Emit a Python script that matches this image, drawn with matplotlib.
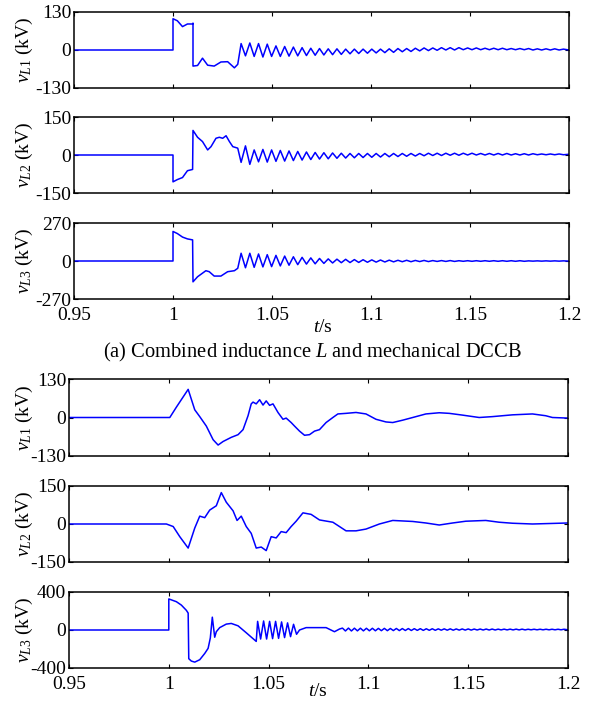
import matplotlib
matplotlib.use("Agg")
import matplotlib.pyplot as plt

plt.rcParams['font.family'] = ['Liberation Serif', 'DejaVu Serif']
plt.rcParams['mathtext.fontset'] = 'custom'
plt.rcParams['mathtext.rm'] = 'Liberation Serif'
plt.rcParams['mathtext.it'] = 'Liberation Serif:italic'

# ---------------- data ----------------
x_ticks = [0.95, 1.0, 1.05, 1.1, 1.15, 1.2]
x_tick_labels = ['0.95', '1', '1.05', '1.1', '1.15', '1.2']

ylabels = [r'$v_{L1}$ (kV)', r'$v_{L2}$ (kV)', r'$v_{L3}$ (kV)']
ylims_a = [130, 150, 270]
ylims_b = [130, 150, 400]
caption_a = r'(a) Combined inductance $L$ and mechanical DCCB'

# (a) shared time instants of the oscillation extrema
t_osc_a = [1.0344, 1.0366, 1.0388, 1.041, 1.0432, 1.0454, 1.0476, 1.0498, 1.052, 1.0542,
           1.0564, 1.0586, 1.0608, 1.063, 1.0652, 1.0674, 1.0696, 1.0718, 1.074, 1.0762,
           1.0784, 1.0806, 1.0828, 1.085, 1.0872, 1.0894, 1.0916, 1.0938, 1.096, 1.0982,
           1.1004, 1.1026, 1.1048, 1.107, 1.1092, 1.1114, 1.1136, 1.1158, 1.118, 1.1202,
           1.1224, 1.1246, 1.1268, 1.129, 1.1312, 1.1334, 1.1356, 1.1378, 1.14, 1.1422,
           1.1444, 1.1466, 1.1488, 1.151, 1.1532, 1.1554, 1.1576, 1.1598, 1.162, 1.1642,
           1.1664, 1.1686, 1.1708, 1.173, 1.1752, 1.1774, 1.1796, 1.1818, 1.184, 1.1862,
           1.1884, 1.1906, 1.1928, 1.195, 1.1972, 1.2]

# (a) v_L1
t_a1 = [0.95, 1.0, 1.0, 1.0022, 1.0048, 1.0073, 1.0099, 1.0101, 1.0101, 1.0124, 1.0149,
        1.0175, 1.0208, 1.0242, 1.0276, 1.031, 1.0327]
v_a1 = [0, 0, 107, 100, 80, 89, 89, 92, -55, -53, -28, -52, -55, -41, -40, -61, -49]
v_a1_osc = [22, -20, 24, -22, 22, -24, 20, -22, 14, -22, 12, -21,
            10, -20, 8, -19, 6, -18, 5, -17, 4, -16, 4, -15,
            3, -13, 3, -12, 3, -11, 3, -10, 3, -9, 4, -8,
            5, -6, 5, -5, 6, -3, 7, -2, 7, -1, 8, 0,
            8, 0, 8, 1, 7, 1, 7, 1, 6, 1, 6, 1,
            6, 1, 5, 1, 5, 1, 5, 0, 4, 0, 4, 0,
            4, 0, 3, 0]

# (a) v_L2
t_a2 = [0.95, 1.0, 1.0, 1.0022, 1.0048, 1.0073, 1.0099, 1.0101, 1.0124, 1.0149, 1.0175,
        1.0192, 1.0217, 1.0234, 1.0251, 1.0268, 1.0285, 1.0302, 1.0327]
v_a2 = [0, 0, -106, -97, -89, -62, -57, 97, 70, 53, 20, 33, 66, 70, 66, 76, 53, 33, 27]
v_a2_osc = [-29, 36, -37, 20, -27, 22, -28, 20, -25, 18, -24, 16,
            -22, 14, -20, 12, -18, 10, -16, 9, -15, 8, -13, 7,
            -12, 6, -11, 6, -10, 6, -9, 6, -8, 6, -7, 6,
            -6, 6, -5, 6, -4, 6, -3, 7, -2, 7, -2, 7,
            -1, 7, -1, 7, 0, 7, 0, 6, 0, 6, 0, 6,
            0, 6, 0, 5, 0, 5, 0, 5, 1, 4, 1, 4,
            1, 4, 1, 3]

# (a) v_L3
t_a3 = [0.95, 1.0, 1.0, 1.0022, 1.0048, 1.0073, 1.0099, 1.0101, 1.0124, 1.0166, 1.0183,
        1.0208, 1.0242, 1.0276, 1.031, 1.0327]
v_a3 = [0, 0, 210, 195, 170, 157, 150, -148, -112, -69, -76, -107, -107, -76, -69, -52]
v_a3_osc = [55, -48, 55, -45, 50, -42, 45, -40, 40, -35, 35, -30,
            30, -26, 26, -22, 22, -20, 18, -17, 15, -14, 13, -12,
            12, -11, 10, -10, 9, -9, 8, -8, 7, -7, 6, -6,
            5, -5, 5, -5, 4, -4, 4, -4, 3, -3, 3, -3,
            3, -3, 2, -2, 2, -2, 2, -2, 2, -2, 2, -2,
            2, -2, 2, -2, 2, -2, 1, -1, 1, -1, 1, -1,
            1, -1, 1, -1]

# (b) v_L1
t_b1 = [0.95, 1.0005, 1.0038, 1.0097, 1.013, 1.0155, 1.0188, 1.0222, 1.0247, 1.0272, 1.0313,
        1.0347, 1.0372, 1.0397, 1.0413, 1.0422, 1.0438, 1.0455, 1.0472, 1.0488, 1.0505,
        1.0522, 1.0547, 1.0572, 1.0588, 1.0613, 1.063, 1.0655, 1.068, 1.0705, 1.073,
        1.0755, 1.0788, 1.0822, 1.0847, 1.0888, 1.0938, 1.0988, 1.1038, 1.1088, 1.1122,
        1.1172, 1.1222, 1.1288, 1.1355, 1.1405, 1.1472, 1.1555, 1.1622, 1.1722, 1.1822,
        1.1888, 1.1922, 1.2]
v_b1 = [0, 0, 35, 95, 26, 3, -29, -75, -93, -81, -67, -58, -41, 6, 46, 52, 46, 60, 42, 56,
        41, 46, 17, -6, -2, -17, -29, -46, -60, -58, -46, -41, -17, 0, 12, 14, 17, 12, -6,
        -15, -17, -9, 0, 12, 16, 14, 8, 0, 3, 9, 12, 6, 0, -2]

# (b) v_L2
t_b2 = [0.95, 0.9988, 1.0022, 1.0055, 1.0097, 1.013, 1.0155, 1.018, 1.0205, 1.0238, 1.0263,
        1.0288, 1.0322, 1.0342, 1.0363, 1.0388, 1.0413, 1.0438, 1.0463, 1.0488, 1.0513,
        1.0538, 1.0563, 1.0588, 1.0613, 1.0638, 1.0672, 1.0713, 1.0755, 1.0822, 1.0888,
        1.0938, 1.0988, 1.1055, 1.1122, 1.1222, 1.1288, 1.1355, 1.1422, 1.1488, 1.1588,
        1.1655, 1.1722, 1.1822, 1.2]
v_b2 = [0, 0, -10, -50, -95, -16, 31, 25, 55, 72, 124, 86, 52, 14, 31, -10, -37, -95, -91,
        -105, -50, -55, -30, -34, -10, 11, 44, 38, 16, 7, -27, -27, -20, 0, 14, 10, 4, -4,
        4, 11, 14, 7, 3, 0, 4]

# (b) v_L3
t_b3 = [0.95, 1.0, 1.0, 1.0038, 1.0063, 1.0088, 1.0097, 1.01, 1.0113, 1.013, 1.0155, 1.018,
        1.0197, 1.0208, 1.0218, 1.023, 1.0238, 1.0255, 1.0288, 1.0313, 1.0347, 1.0388,
        1.0422, 1.0438]
v_b3 = [0, 0, 327, 298, 262, 207, 178, -302, -327, -338, -313, -247, -193, -84, 135, -76,
        -18, 25, 62, 69, 44, -29, -91, -120]
t_b3_burst = [1.0445, 1.046, 1.0475, 1.049, 1.0505, 1.052, 1.0535, 1.055, 1.0565, 1.058,
              1.0595, 1.061, 1.0625, 1.064, 1.0655, 1.0688, 1.0788, 1.083, 1.0855]
v_b3_burst = [91, -95, 95, -95, 91, -91, 91, -88, 85, -80, 75, -70, 60, -45, 0, 25, 25, -18, 10]
t_b3_tail = [1.087, 1.0885, 1.09, 1.0915, 1.093, 1.0945, 1.096, 1.0975, 1.099, 1.1005,
             1.102, 1.1035, 1.105, 1.1065, 1.108, 1.1095, 1.111, 1.1125, 1.114, 1.1155,
             1.117, 1.1185, 1.12, 1.1215, 1.123, 1.1245, 1.126, 1.1275, 1.129, 1.1305,
             1.132, 1.1335, 1.135, 1.1365, 1.138, 1.1395, 1.141, 1.1425, 1.144, 1.1455,
             1.147, 1.1485, 1.15, 1.1515, 1.153, 1.1545, 1.156, 1.1575, 1.159, 1.1605,
             1.162, 1.1635, 1.165, 1.1665, 1.168, 1.1695, 1.171, 1.1725, 1.174, 1.1755,
             1.177, 1.1785, 1.18, 1.1815, 1.183, 1.1845, 1.186, 1.1875, 1.189, 1.1905,
             1.192, 1.1935, 1.195, 1.1965, 1.198, 1.2]
v_b3_tail = [20, -10, 20, -10, 19, -9, 19, -9, 18, -8, 18, -8,
             17, -7, 17, -7, 16, -6, 16, -6, 15, -5, 15, -5,
             14, -4, 14, -4, 13, -3, 13, -3, 12, -2, 12, -2,
             12, -2, 11, -1, 11, -1, 11, -1, 10, 0, 10, 0,
             10, 0, 10, 0, 9, 1, 9, 1, 9, 1, 9, 1,
             9, 1, 8, 2, 8, 2, 8, 2, 8, 2, 8, 2,
             8, 2, 8, 2]

series_a = [(t_a1 + t_osc_a, v_a1 + v_a1_osc),
            (t_a2 + t_osc_a, v_a2 + v_a2_osc),
            (t_a3 + t_osc_a, v_a3 + v_a3_osc)]
series_b = [(t_b1, v_b1), (t_b2, v_b2),
            (t_b3 + t_b3_burst + t_b3_tail, v_b3 + v_b3_burst + v_b3_tail)]

# ---------------- layout ----------------
W, H = 601, 702
fig = plt.figure(figsize=(W / 100, H / 100), dpi=100)


def add_ax(left, top, right, bottom):
    return fig.add_axes([left / W, 1 - bottom / H, (right - left) / W, (bottom - top) / H])


boxes_a = [(74, 12, 569, 88), (74, 117, 569, 193), (74, 223, 569, 299)]
boxes_b = [(69, 379, 568, 456), (69, 486, 568, 562), (69, 592, 568, 668)]
FS = 14
BLUE = '#0000ff'


def style(ax, lim, show_x, label_x):
    ax.set_xlim(0.95, 1.2)
    ax.set_ylim(-lim, lim)
    ax.set_xticks(x_ticks)
    ax.set_yticks([-lim, 0, lim])
    ax.set_yticklabels([f'-{lim}', '0', f'{lim}'])
    if show_x:
        ax.set_xticklabels(x_tick_labels)
    else:
        ax.set_xticklabels([])
    ax.tick_params(direction='in', length=3, width=0.8, top=True, right=True,
                   labelsize=FS, pad=2, colors='black')
    ax.tick_params(axis='x', pad=5.5)
    for s in ax.spines.values():
        s.set_linewidth(1.1)
    ax.yaxis.set_label_coords(label_x, 0.5)


for boxes, series, lims, lx in [(boxes_a, series_a, ylims_a, -0.079),
                                (boxes_b, series_b, ylims_b, -0.068)]:
    for i, (box, (t, v), lim) in enumerate(zip(boxes, series, lims)):
        ax = add_ax(*box)
        ax.plot(t, v, color=BLUE, lw=1.1)
        style(ax, lim, i == 2, lx)
        ax.set_ylabel(ylabels[i], fontsize=FS, labelpad=0)

fig.text(323 / W, 1 - 327 / H, r'$t$/s', fontsize=FS, ha='center', va='center')
fig.text(318 / W, 1 - 691 / H, r'$t$/s', fontsize=FS, ha='center', va='center')
fig.text(312 / W, 1 - 352 / H, caption_a, fontsize=14.8, ha='center', va='center')

fig.savefig('out.png', dpi=100)
